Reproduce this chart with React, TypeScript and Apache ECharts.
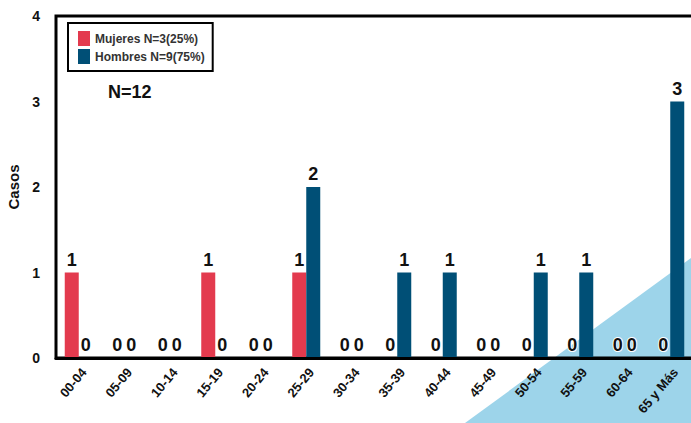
import React, { useEffect, useRef } from "react";
import * as echarts from "echarts";

const categories = ["00-04", "05-09", "10-14", "15-19", "20-24", "25-29", "30-34", "35-39", "40-44", "45-49", "50-54", "55-59", "60-64", "65 y Más"];
const mujeres = [1, 0, 0, 1, 0, 1, 0, 0, 0, 0, 0, 0, 0, 0];
const hombres = [0, 0, 0, 0, 0, 2, 0, 1, 1, 0, 1, 1, 0, 3];
const legendNames = ["Mujeres N=3(25%)", "Hombres N=9(75%)"];
const totalText = "N=12";
const yTicks = { min: 0, max: 4, interval: 1 };

const FONT = "'Liberation Sans', Arial, sans-serif";

export default function App() {
  const ref = useRef<HTMLDivElement>(null);
  useEffect(() => {
    if (!ref.current) return;
    const chart = echarts.init(ref.current, undefined, { renderer: "svg" });
    const label = {
      show: true,
      position: "top" as const,
      distance: 4,
      fontFamily: FONT,
      fontWeight: "bold" as const,
      fontSize: 18,
      color: "#111",
      textBorderColor: "#fff",
      textBorderWidth: 2,
    };
    chart.setOption({
      animation: false,
      backgroundColor: "#fff",
      grid: {
        left: 56,
        right: -2,
        top: 16,
        bottom: 65,
        outerBoundsMode: "none",
        containLabel: false,
        show: true,
        borderColor: "#000",
        borderWidth: 3,
        backgroundColor: "transparent",
      },
      title: {
        text: totalText,
        left: 103,
        top: 78,
        textStyle: { fontFamily: FONT, fontWeight: "bold", fontSize: 18, color: "#111" },
      },
      legend: {
        orient: "vertical",
        left: 68,
        top: 23,
        itemWidth: 12,
        itemHeight: 15,
        itemGap: 3,
        padding: [8, 8, 7, 10],
        borderColor: "#000",
        borderWidth: 2,
        icon: "rect",
        data: legendNames,
        textStyle: { fontFamily: FONT, fontWeight: "bold", fontSize: 12, color: "#333" },
      },
      graphic: [
        {
          type: "polygon",
          z: -10,
          silent: true,
          shape: { points: [[465, 423], [691, 258], [691, 423]] },
          style: { fill: "#9dd4ea" },
        },
      ],
      xAxis: {
        type: "category",
        data: categories,
        z: 5,
        axisLine: { show: true, lineStyle: { color: "#000", width: 3 } },
        axisTick: { show: false },
        axisLabel: {
          interval: 0,
          rotate: 50,
          margin: 18,
          padding: [0, -8, 0, 0],
          fontFamily: FONT,
          fontWeight: "bold",
          fontSize: 13,
          color: "#111",
        },
      },
      yAxis: {
        type: "value",
        min: yTicks.min,
        max: yTicks.max,
        interval: yTicks.interval,
        name: "Casos",
        nameLocation: "middle",
        nameRotate: 90,
        nameGap: 30,
        nameTextStyle: { fontFamily: FONT, fontWeight: "bold", fontSize: 15, color: "#111" },
        axisLine: { show: true, lineStyle: { color: "#000", width: 2 } },
        axisTick: { show: false },
        splitLine: { show: false },
        axisLabel: { margin: 16, fontFamily: FONT, fontWeight: "bold", fontSize: 14, color: "#111" },
      },
      series: [
        {
          name: legendNames[0],
          type: "bar",
          data: mujeres,
          barWidth: 14,
          barGap: "0%",
          itemStyle: { color: "#e33a4e" },
          label,
        },
        {
          name: legendNames[1],
          type: "bar",
          data: hombres,
          barWidth: 14,
          barGap: "0%",
          itemStyle: { color: "#004f76" },
          label,
        },
      ],
    });
    return () => chart.dispose();
  }, []);
  return <div ref={ref} style={{ position: "absolute", left: 0, top: 0, width: 691, height: 423 }} />;
}
